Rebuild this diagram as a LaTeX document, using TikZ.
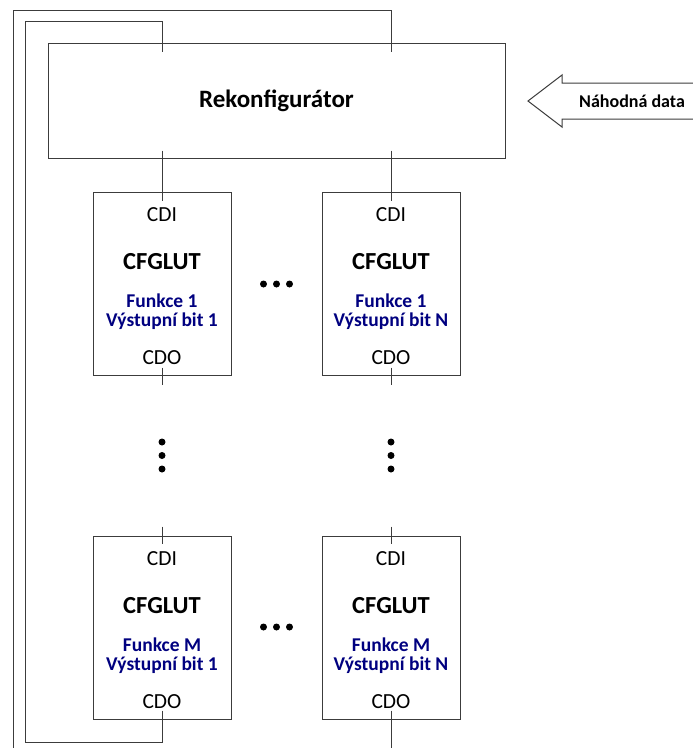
\documentclass[tikz,border=0pt]{standalone}
\usepackage{fontspec}
\setmainfont{Carlito}
\usetikzlibrary{calc}
\definecolor{navytext}{RGB}{0,0,128}
\definecolor{wire}{RGB}{60,60,60}
\tikzset{
  blk/.style={draw=wire, line width=1pt, inner sep=0pt, fill=white},
  lutbox/.style={blk, minimum width=138pt, minimum height=183pt},
  port/.style={font=\fontsize{21.5}{24}\selectfont, anchor=base, inner sep=0pt},
  luttitle/.style={font=\fontsize{24.5}{28}\selectfont\bfseries, anchor=base, inner sep=0pt},
  lutfunc/.style={font=\fontsize{19.5}{19}\selectfont\bfseries, text=navytext, align=center, inner sep=0pt},
  wireline/.style={draw=wire, line width=1pt},
  dotmark/.style={circle, fill=black, minimum size=7pt, inner sep=0pt},
}
\begin{document}
\begin{tikzpicture}[x=1pt, y=-1pt]
\useasboundingbox (0,0) rectangle (693,748);

% reconfiguration unit
\node[blk, minimum width=457pt, minimum height=115pt,
      font=\fontsize{25}{29}\selectfont\bfseries] (rek) at (276.5,100.5) {Rekonfigurátor};

% input arrow with random data
\coordinate (arrS1) at (693,83);
\coordinate (arrS2) at (693,119);
\draw[wire, line width=1pt, line join=miter]
  (arrS1) -- (562,83) -- (562,75) -- (528,101) -- (562,127) -- (562,119) -- (arrS2);
\node[font=\fontsize{18}{22}\selectfont\bfseries, inner sep=0pt] (rnd) at (632,101) {Náhodná data};

% CFGLUT array
\node[lutbox] (a1) at (162,283.5) {};
\node[lutbox] (a2) at (391,283.5) {};
\node[lutbox] (b1) at (162,627.5) {};
\node[lutbox] (b2) at (391,627.5) {};

\foreach \n/\f/\o in {a1/1/1, a2/1/N, b1/M/1, b2/M/N}{
  \node[port] (\n-cdi) at ($(\n.north)+(0,30)$) {CDI};
  \node[luttitle] (\n-t) at ($(\n.north)+(0,78)$) {CFGLUT};
  \node[lutfunc] (\n-f) at ($(\n.north)+(0,120)$) {Funkce \f\\Výstupní bit \o};
  \node[port] (\n-cdo) at ($(\n.north)+(0,173)$) {CDO};
}

% dots between columns and rows
\foreach \y in {284,627}{
  \foreach \x in {263.5,276.5,289.5}{
    \node[dotmark] at (\x,\y) {};
  }
}
\foreach \x in {162,391}{
  \foreach \y in {442,455.5,469}{
    \node[dotmark] at (\x,\y) {};
  }
}

% configuration chain wiring
\coordinate (loopA) at (25,742);
\coordinate (loopB) at (25,21);
\coordinate (loopC) at (13,748);
\coordinate (loopD) at (13,10);
\coordinate (endR) at (391,748);

\draw[wireline] ($(rek.south -| a1.north)+(0,-8)$) -- ($(a1.north)+(0,9)$);
\draw[wireline] ($(rek.south -| a2.north)+(0,-8)$) -- ($(a2.north)+(0,9)$);
\draw[wireline] ($(a1.south)+(0,-8)$) -- ($(a1.south)+(0,9)$);
\draw[wireline] ($(a2.south)+(0,-8)$) -- ($(a2.south)+(0,9)$);
\draw[wireline] ($(b1.north)+(0,-9)$) -- ($(b1.north)+(0,8)$);
\draw[wireline] ($(b2.north)+(0,-9)$) -- ($(b2.north)+(0,8)$);

\draw[wireline] ($(b1.south)+(0,-9)$) -- (b1.south |- loopA) -- (loopA) -- (loopB)
  -- (loopB -| a1.north) -- ($(rek.north -| a1.north)+(0,9)$);
\draw[wireline] ($(b2.south)+(0,-9)$) -- (endR);
\draw[wireline] (loopC) -- (loopD) -- (loopD -| a2.north) -- ($(rek.north -| a2.north)+(0,9)$);
\end{tikzpicture}
\end{document}
